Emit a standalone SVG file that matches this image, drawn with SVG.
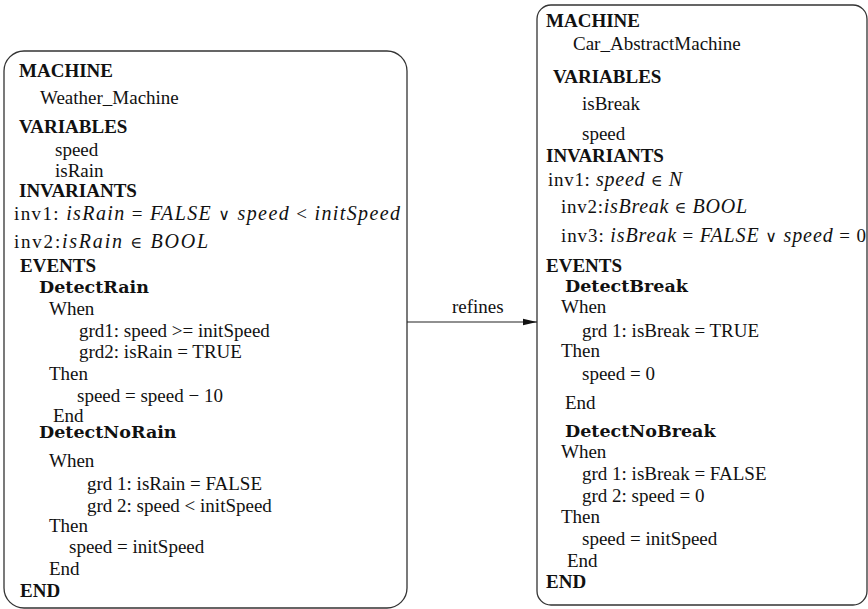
<svg xmlns="http://www.w3.org/2000/svg" width="868" height="609" viewBox="0 0 868 609">
  <defs>
    <marker id="arrow" viewBox="0 0 14 8" refX="14" refY="4" markerWidth="14" markerHeight="8" markerUnits="userSpaceOnUse" orient="auto">
      <path d="M0,0.8 L14,4 L0,7.2 Z" fill="#111"/>
    </marker>
    <style>
      .box { fill: #fff; stroke: #333; stroke-width: 1.3; }
      text { font-family: "Liberation Serif", "Times New Roman", serif; font-size: 19px; fill: #111; }
      .b { font-weight: bold; }
      .ev { font-family: "DejaVu Serif", serif; font-weight: bold; font-size: 17.5px; }
      .m { font-style: italic; font-size: 20px; }
      .op { font-family: "DejaVu Serif", serif; font-size: 16px; }
      .edge { stroke: #222; stroke-width: 1.2; fill: none; }
    </style>
  </defs>
  <rect width="868" height="609" fill="#fff"/>

  <!-- Abstract machine: weather -->
  <g id="weather-machine">
    <rect class="box" x="4" y="51" width="403" height="557" rx="20" ry="20"/>
    <text class="b" x="19" y="77">MACHINE</text>
    <text x="40" y="104">Weather_Machine</text>
    <text class="b" x="19" y="133">VARIABLES</text>
    <text x="55" y="156">speed</text>
    <text x="55" y="177">isRain</text>
    <text class="b" x="19" y="197">INVARIANTS</text>
    <text x="14" y="220" textLength="386" lengthAdjust="spacing">inv1: <tspan class="m">isRain</tspan> = <tspan class="m">FALSE</tspan> <tspan class="op">∨</tspan> <tspan class="m">speed</tspan> &lt; <tspan class="m">initSpeed</tspan></text>
    <text x="14" y="248" textLength="194" lengthAdjust="spacing">inv2:<tspan class="m">isRain</tspan> <tspan class="op">∈</tspan> <tspan class="m">BOOL</tspan></text>
    <text class="b" x="20" y="272">EVENTS</text>
    <text class="ev" x="39" y="293">DetectRain</text>
    <text x="49" y="315">When</text>
    <text x="79" y="337">grd1: speed &gt;= initSpeed</text>
    <text x="79" y="358">grd2: isRain = TRUE</text>
    <text x="49" y="380">Then</text>
    <text x="77" y="402">speed = speed − 10</text>
    <text x="53" y="422">End</text>
    <text class="ev" x="39" y="438">DetectNoRain</text>
    <text x="49" y="467">When</text>
    <text x="87" y="490">grd 1: isRain = FALSE</text>
    <text x="87" y="512">grd 2: speed &lt; initSpeed</text>
    <text x="49" y="532">Then</text>
    <text x="69" y="553">speed = initSpeed</text>
    <text x="49" y="575">End</text>
    <text class="b" x="20" y="597">END</text>
  </g>

  <!-- Concrete machine: car -->
  <g id="car-machine">
    <rect class="box" x="537" y="5" width="330" height="600" rx="14" ry="14"/>
    <text class="b" x="546" y="27">MACHINE</text>
    <text x="573" y="50">Car_AbstractMachine</text>
    <text class="b" x="553" y="83">VARIABLES</text>
    <text x="582" y="110">isBreak</text>
    <text x="582" y="140">speed</text>
    <text class="b" x="546" y="162">INVARIANTS</text>
    <text x="548" y="186" textLength="134" lengthAdjust="spacing">inv1: <tspan class="m">speed</tspan> <tspan class="op">∈</tspan> <tspan class="m">N</tspan></text>
    <text x="561" y="213" textLength="186" lengthAdjust="spacing">inv2:<tspan class="m">isBreak</tspan> <tspan class="op">∈</tspan> <tspan class="m">BOOL</tspan></text>
    <text x="561" y="242" textLength="305" lengthAdjust="spacing">inv3: <tspan class="m">isBreak</tspan> = <tspan class="m">FALSE</tspan> <tspan class="op">∨</tspan> <tspan class="m">speed</tspan> = 0</text>
    <text class="b" x="546" y="272">EVENTS</text>
    <text class="ev" x="565" y="292">DetectBreak</text>
    <text x="561" y="313">When</text>
    <text x="582" y="337">grd 1: isBreak = TRUE</text>
    <text x="561" y="357">Then</text>
    <text x="582" y="380">speed = 0</text>
    <text x="565" y="409">End</text>
    <text class="ev" x="565" y="437">DetectNoBreak</text>
    <text x="561" y="458">When</text>
    <text x="582" y="480">grd 1: isBreak = FALSE</text>
    <text x="582" y="502">grd 2: speed = 0</text>
    <text x="561" y="523">Then</text>
    <text x="582" y="545">speed = initSpeed</text>
    <text x="567" y="567">End</text>
    <text class="b" x="546" y="588">END</text>
  </g>

  <!-- Refinement link -->
  <g id="connectors">
    <line class="edge" x1="407" y1="322" x2="537" y2="322" marker-end="url(#arrow)"/>
    <text x="452" y="313">refines</text>
  </g>
</svg>
